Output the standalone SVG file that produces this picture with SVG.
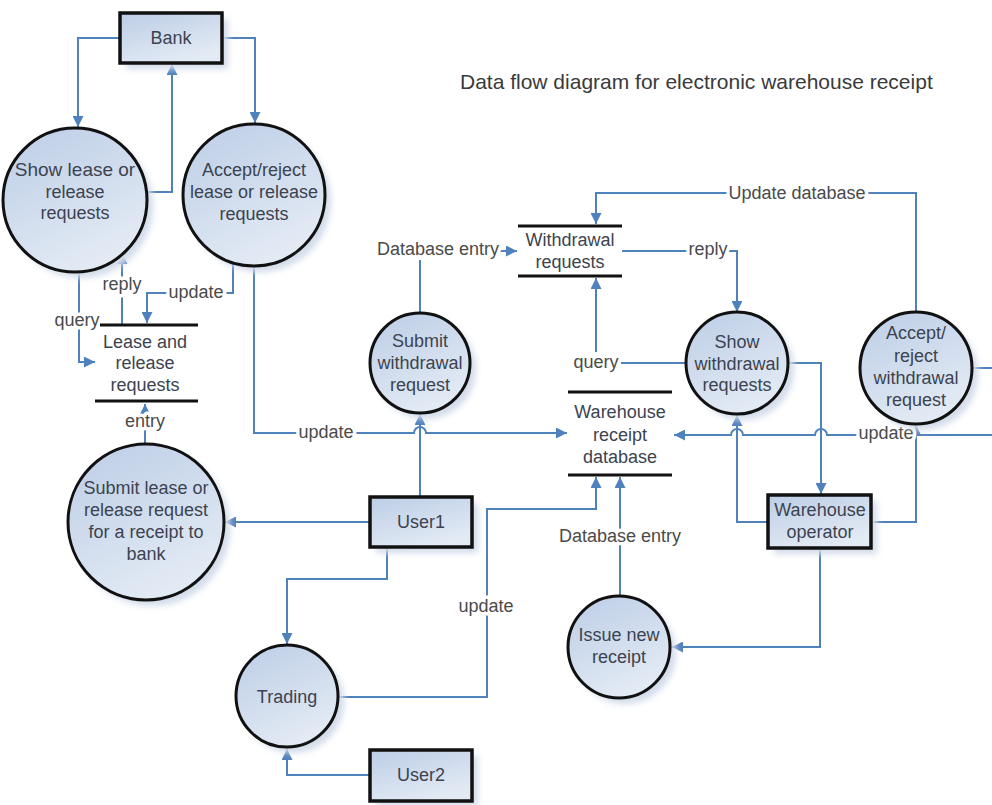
<svg xmlns="http://www.w3.org/2000/svg" width="992" height="805" viewBox="0 0 992 805">
<defs>
<linearGradient id="fill" x1="0" y1="0" x2="0.5" y2="1">
<stop offset="0" stop-color="#bccde6"/>
<stop offset="1" stop-color="#e2eaf4"/>
</linearGradient>
<filter id="blur" x="-20%" y="-20%" width="140%" height="140%">
<feGaussianBlur stdDeviation="3"/>
</filter>
<marker id="arr" viewBox="0 0 10 10" refX="10" refY="5" markerWidth="11" markerHeight="11" markerUnits="userSpaceOnUse" orient="auto">
<path d="M0,0 L10,5 L0,10 z" fill="#4f81bd"/>
</marker>
<style>
.proc{fill:url(#fill);stroke:#111;stroke-width:3}
.ent{fill:url(#fill);stroke:#111;stroke-width:3.5}
.sh{fill:#d3dcea;stroke:none;filter:url(#blur)}
.store{stroke:#111;stroke-width:3}
.t{font-family:"Liberation Sans",Arial,sans-serif;font-size:18px;fill:#3c4350;text-anchor:middle}
.s{font-size:14px}
.lab{font-family:"Liberation Sans",Arial,sans-serif;font-size:18px;fill:#4a4a4a;text-anchor:middle;paint-order:stroke;stroke:#fff;stroke-width:7px;stroke-linejoin:round}
.c{fill:none;stroke:#4f81bd;stroke-width:2}
.a{marker-end:url(#arr)}
</style>
</defs>
<rect width="992" height="805" fill="#fff"/>
<text class="t" x="460" y="89" style="font-size:21px;text-anchor:start;fill:#3a3a3a">Data flow diagram for electronic warehouse receipt</text>

<g id="connectors">
<path class="c a" d="M120,38 H78 V127"/>
<path class="c a" d="M147,192 H172 V64"/>
<path class="c a" d="M222,38 H255 V123"/>
<path class="c a" d="M79,271 V362 H95"/>
<path class="c a" d="M122,325 V253"/>
<path class="c a" d="M233,263 V293 H147 V323"/>
<path class="c a" d="M254,266 V433 H414 a6,6 0 0 1 12,0 H567"/>
<path class="c a" d="M145,444 V404"/>
<path class="c a" d="M370,522 H225"/>
<path class="c a" d="M420,497 V414"/>
<path class="c" d="M420,313 V260"/>
<path class="c a" d="M490,251 H517"/>
<path class="c a" d="M622,251 H737 V312"/>
<path class="c" d="M686,363 H621"/>
<path class="c a" d="M596,352 V278"/>
<path class="c a" d="M916,312 V193 H596 V224"/>
<path class="c a" d="M788,363 H821 V494"/>
<path class="c a" d="M768,522 H737 V415"/>
<path class="c a" d="M871,522 H916 V425"/>
<path class="c a" d="M972,368 H996 V435 H827 a6,6 0 0 0 -12,0 H743 a6,6 0 0 0 -12,0 H674"/>
<path class="c a" d="M820,548 V647 H672"/>
<path class="c a" d="M620,597 V477"/>
<path class="c a" d="M338,697 H487 V509 H596 V477"/>
<path class="c a" d="M387,547 V579 H287 V644"/>
<path class="c a" d="M370,775 H287 V749"/>
<text class="lab" x="77" y="326">query</text>
<text class="lab" x="122" y="290">reply</text>
<text class="lab" x="196" y="298">update</text>
<text class="lab" x="326" y="438">update</text>
<text class="lab s" x="145" y="427">entry</text>
<text class="lab s" x="438" y="255">Database entry</text>
<text class="lab" x="708" y="255">reply</text>
<text class="lab" x="596" y="368">query</text>
<text class="lab" x="797" y="199">Update database</text>
<text class="lab s" x="886" y="439">update</text>
<text class="lab" x="620" y="542">Database entry</text>
<text class="lab" x="486" y="612">update</text>
</g>

<g id="bank">
<rect class="sh" x="126" y="19" width="102" height="50"/>
<rect class="ent" x="120" y="13" width="102" height="50"/>
<text class="t" x="171" y="44">Bank</text>
</g>

<g id="show-lease">
<circle class="sh" cx="81" cy="206" r="72"/>
<circle class="proc" cx="75" cy="200" r="72"/>
<text class="t" x="75" y="176" style="font-size:19px">Show lease or</text>
<text class="t" x="75" y="198">release</text>
<text class="t" x="75" y="219">requests</text>
</g>

<g id="accept-lease">
<circle class="sh" cx="260" cy="201" r="71"/>
<circle class="proc" cx="254" cy="195" r="71"/>
<text class="t" x="254" y="176">Accept/reject</text>
<text class="t" x="254" y="198">lease or release</text>
<text class="t" x="254" y="220">requests</text>
</g>

<g id="lease-store">
<line class="store" x1="100" y1="325" x2="198" y2="325"/>
<line class="store" x1="95" y1="401" x2="198" y2="401"/>
<text class="t" x="145" y="348">Lease and</text>
<text class="t" x="145" y="369">release</text>
<text class="t" x="145" y="391">requests</text>
</g>

<g id="submit-lease">
<circle class="sh" cx="152" cy="528" r="78"/>
<circle class="proc" cx="146" cy="522" r="78"/>
<text class="t" x="146" y="494">Submit lease or</text>
<text class="t" x="146" y="516">release request</text>
<text class="t" x="146" y="538">for a receipt to</text>
<text class="t" x="146" y="560">bank</text>
</g>

<g id="submit-withdrawal">
<circle class="sh" cx="426" cy="369" r="50"/>
<circle class="proc" cx="420" cy="363" r="50"/>
<text class="t" x="420" y="347">Submit</text>
<text class="t" x="420" y="369">withdrawal</text>
<text class="t" x="420" y="391">request</text>
</g>

<g id="withdrawal-store">
<line class="store" x1="518" y1="226" x2="622" y2="226"/>
<line class="store" x1="518" y1="276" x2="622" y2="276"/>
<text class="t" x="570" y="246">Withdrawal</text>
<text class="t" x="570" y="268">requests</text>
</g>

<g id="receipt-db">
<line class="store" x1="568" y1="392" x2="672" y2="392"/>
<line class="store" x1="568" y1="475" x2="672" y2="475"/>
<text class="t" x="620" y="418">Warehouse</text>
<text class="t" x="620" y="441">receipt</text>
<text class="t" x="620" y="463">database</text>
</g>

<g id="show-withdrawal">
<circle class="sh" cx="743" cy="369" r="51"/>
<circle class="proc" cx="737" cy="363" r="51"/>
<text class="t" x="737" y="348">Show</text>
<text class="t" x="737" y="370">withdrawal</text>
<text class="t" x="737" y="391">requests</text>
</g>

<g id="accept-withdrawal">
<circle class="sh" cx="922" cy="374" r="56"/>
<circle class="proc" cx="916" cy="368" r="56"/>
<text class="t" x="916" y="339">Accept/</text>
<text class="t" x="916" y="362">reject</text>
<text class="t" x="916" y="384">withdrawal</text>
<text class="t" x="916" y="406">request</text>
</g>

<g id="warehouse-operator">
<rect class="sh" x="774" y="501" width="103" height="53"/>
<rect class="ent" x="768" y="495" width="103" height="53"/>
<text class="t" x="820" y="516">Warehouse</text>
<text class="t" x="820" y="538">operator</text>
</g>

<g id="issue-receipt">
<circle class="sh" cx="625" cy="653" r="51"/>
<circle class="proc" cx="619" cy="647" r="51"/>
<text class="t" x="619" y="641">Issue new</text>
<text class="t" x="619" y="663">receipt</text>
</g>

<g id="user1">
<rect class="sh" x="376" y="503" width="102" height="50"/>
<rect class="ent" x="370" y="497" width="102" height="50"/>
<text class="t" x="421" y="528">User1</text>
</g>

<g id="trading">
<circle class="sh" cx="293" cy="702" r="51"/>
<circle class="proc" cx="287" cy="696" r="51"/>
<text class="t" x="287" y="703">Trading</text>
</g>

<g id="user2">
<rect class="sh" x="376" y="756" width="102" height="50"/>
<rect class="ent" x="370" y="750" width="102" height="51"/>
<text class="t" x="421" y="781">User2</text>
</g>
</svg>
